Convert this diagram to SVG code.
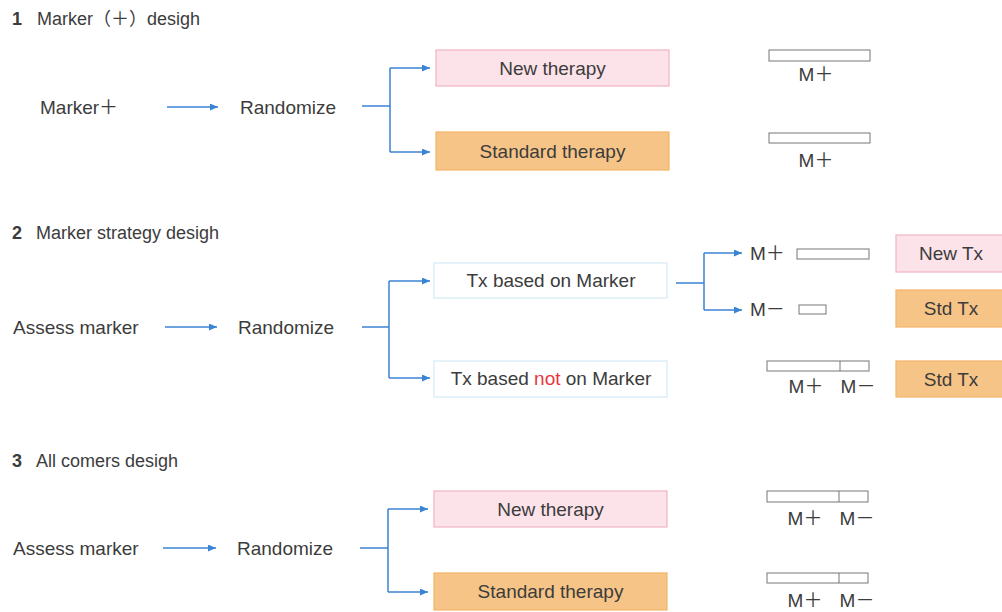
<svg xmlns="http://www.w3.org/2000/svg" width="1002" height="612" viewBox="0 0 1002 612">
<defs>
<style>
.t{font-family:"Liberation Sans","Noto Sans CJK JP",sans-serif;font-size:19px;fill:#3c3c3c}
.h{font-size:18px}
.n{font-weight:bold}
.c{text-anchor:middle}
.ln{stroke:#3b84d4;stroke-width:1.5;fill:none}
.pink{fill:#fce3ea;stroke:#f2b3c2;stroke-width:1.2}
.orange{fill:#f7c487;stroke:#f3b466;stroke-width:1.2}
.white{fill:#fff;stroke:#d6eaf5;stroke-width:1.2}
.bar{fill:#fff;stroke:#777;stroke-width:1}
</style>
<marker id="ah" markerUnits="userSpaceOnUse" markerWidth="9" markerHeight="8" refX="8" refY="3.5" orient="auto">
<path d="M0,0 L8,3.5 L0,7 z" fill="#3b84d4"/>
</marker>
</defs>
<rect width="1002" height="612" fill="#fff"/>

<g id="headings">
<text class="t h n" x="12" y="25">1</text>
<text class="t h" x="37" y="25">Marker（＋）desigh</text>
<text class="t h n" x="12" y="239">2</text>
<text class="t h" x="36" y="239">Marker strategy desigh</text>
<text class="t h n" x="12" y="467">3</text>
<text class="t h" x="36" y="467">All comers desigh</text>
</g>

<g id="connectors">
<line class="ln" x1="167" y1="107" x2="218" y2="107" marker-end="url(#ah)"/>
<path class="ln" d="M362,106 H390 M390,68 V152"/>
<path class="ln" d="M390,68 H430" marker-end="url(#ah)"/>
<path class="ln" d="M390,152 H430" marker-end="url(#ah)"/>

<line class="ln" x1="165" y1="327" x2="217" y2="327" marker-end="url(#ah)"/>
<path class="ln" d="M362,327 H389 M389,281 V378"/>
<path class="ln" d="M389,281 H430" marker-end="url(#ah)"/>
<path class="ln" d="M389,378 H430" marker-end="url(#ah)"/>
<path class="ln" d="M676,283 H704 M704,253 V310"/>
<path class="ln" d="M704,253 H742" marker-end="url(#ah)"/>
<path class="ln" d="M704,310 H742" marker-end="url(#ah)"/>

<line class="ln" x1="163" y1="548" x2="216" y2="548" marker-end="url(#ah)"/>
<path class="ln" d="M360,548 H388 M388,509 V592"/>
<path class="ln" d="M388,509 H428" marker-end="url(#ah)"/>
<path class="ln" d="M388,592 H428" marker-end="url(#ah)"/>
</g>

<g id="s1-marker"><text class="t" x="40" y="114">Marker＋</text></g>
<g id="s1-randomize"><text class="t" x="240" y="114">Randomize</text></g>
<g id="s1-new"><rect class="pink" x="436" y="50" width="233" height="36"/><text class="t c" x="552.5" y="75">New therapy</text></g>
<g id="s1-std"><rect class="orange" x="436" y="132" width="233" height="38"/><text class="t c" x="552.5" y="158">Standard therapy</text></g>
<g id="s1-bar1"><rect class="bar" x="769" y="50" width="101" height="11"/><text class="t c" x="816" y="81">M＋</text></g>
<g id="s1-bar2"><rect class="bar" x="769" y="133" width="101" height="10"/><text class="t c" x="816" y="167">M＋</text></g>

<g id="s2-assess"><text class="t" x="13" y="334">Assess marker</text></g>
<g id="s2-randomize"><text class="t" x="238" y="334">Randomize</text></g>
<g id="s2-based"><rect class="white" x="434" y="263" width="233" height="35"/><text class="t c" x="551" y="287">Tx based on Marker</text></g>
<g id="s2-notbased"><rect class="white" x="434" y="361" width="233" height="36"/><text class="t c" x="551" y="385">Tx based <tspan fill="#e8363f">not</tspan> on Marker</text></g>
<g id="s2-mplus"><text class="t" x="750" y="260">M＋</text><rect class="bar" x="797" y="249" width="72" height="10"/></g>
<g id="s2-mminus"><text class="t" x="750" y="316">M－</text><rect class="bar" x="799" y="305" width="27" height="9"/></g>
<g id="s2-newtx"><rect class="pink" x="896" y="235" width="110" height="37"/><text class="t c" x="951" y="260">New Tx</text></g>
<g id="s2-stdtx1"><rect class="orange" x="896" y="290" width="110" height="37"/><text class="t c" x="951" y="315">Std Tx</text></g>
<g id="s2-bar3"><rect class="bar" x="767" y="361" width="102" height="10"/><line x1="840" y1="361" x2="840" y2="371" stroke="#777" stroke-width="1"/><text class="t c" x="806" y="393">M＋</text><text class="t c" x="858" y="393">M－</text></g>
<g id="s2-stdtx2"><rect class="orange" x="896" y="361" width="110" height="36"/><text class="t c" x="951" y="386">Std Tx</text></g>

<g id="s3-assess"><text class="t" x="13" y="555">Assess marker</text></g>
<g id="s3-randomize"><text class="t" x="237" y="555">Randomize</text></g>
<g id="s3-new"><rect class="pink" x="434" y="491" width="233" height="36"/><text class="t c" x="550.5" y="516">New therapy</text></g>
<g id="s3-std"><rect class="orange" x="434" y="573" width="233" height="37"/><text class="t c" x="550.5" y="598">Standard therapy</text></g>
<g id="s3-bar1"><rect class="bar" x="767" y="491" width="101" height="11"/><line x1="839" y1="491" x2="839" y2="502" stroke="#777" stroke-width="1"/><text class="t c" x="805" y="525">M＋</text><text class="t c" x="857" y="525">M－</text></g>
<g id="s3-bar2"><rect class="bar" x="767" y="573" width="101" height="10"/><line x1="839" y1="573" x2="839" y2="583" stroke="#777" stroke-width="1"/><text class="t c" x="805" y="607">M＋</text><text class="t c" x="857" y="607">M－</text></g>
</svg>
